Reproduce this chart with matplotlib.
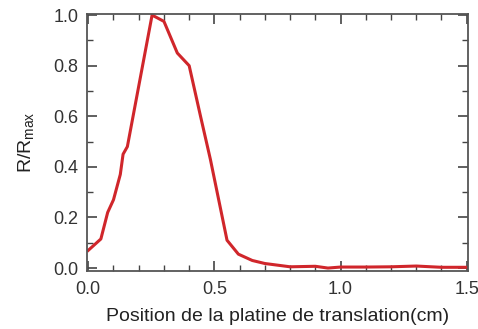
import matplotlib.pyplot as plt
from matplotlib.ticker import MultipleLocator

plt.rcParams['font.family'] = ['Liberation Sans', 'DejaVu Sans']

# position (cm) and normalised signal R/Rmax
position = [0.0, 0.05, 0.077, 0.10, 0.127, 0.138, 0.155, 0.253, 0.30, 0.353,
            0.40, 0.445, 0.484, 0.55, 0.595, 0.65, 0.70, 0.80, 0.90, 0.95,
            1.0, 1.1, 1.2, 1.3, 1.4, 1.5]
ratio = [0.07, 0.115, 0.22, 0.27, 0.37, 0.45, 0.48, 1.0, 0.975, 0.85,
         0.80, 0.60, 0.43, 0.11, 0.055, 0.03, 0.018, 0.005, 0.007, 0.0,
         0.004, 0.004, 0.005, 0.008, 0.003, 0.003]

fig = plt.figure(figsize=(4.78, 3.29), dpi=100)
ax = fig.add_axes([0.182, 0.176, 0.797, 0.782])

ax.plot(position, ratio, color='#d0262b', linewidth=2.2)

ax.set_xlim(-0.005, 1.505)
ax.set_ylim(-0.012, 1.005)
ax.xaxis.set_major_locator(MultipleLocator(0.5))
ax.xaxis.set_minor_locator(MultipleLocator(0.1))
ax.yaxis.set_major_locator(MultipleLocator(0.2))
ax.yaxis.set_minor_locator(MultipleLocator(0.1))
ax.tick_params(which='both', direction='in', top=True, right=True,
               color='#444444', labelsize=13, labelcolor='#333333')
ax.tick_params(axis='x', which='major', pad=7)
ax.tick_params(axis='y', which='major', pad=6)
ax.tick_params(which='major', length=7, width=1.2)
ax.tick_params(which='minor', length=4, width=1.0)
for s in ax.spines.values():
    s.set_color('#555555')
    s.set_linewidth(1.3)

ax.set_xlabel('Position de la platine de translation(cm)', fontsize=14,
              color='#222222', labelpad=7)
ax.set_ylabel('R/R$_{\\mathregular{max}}$', fontsize=14, color='#222222',
              labelpad=12)

fig.savefig('out.png', dpi=100)
